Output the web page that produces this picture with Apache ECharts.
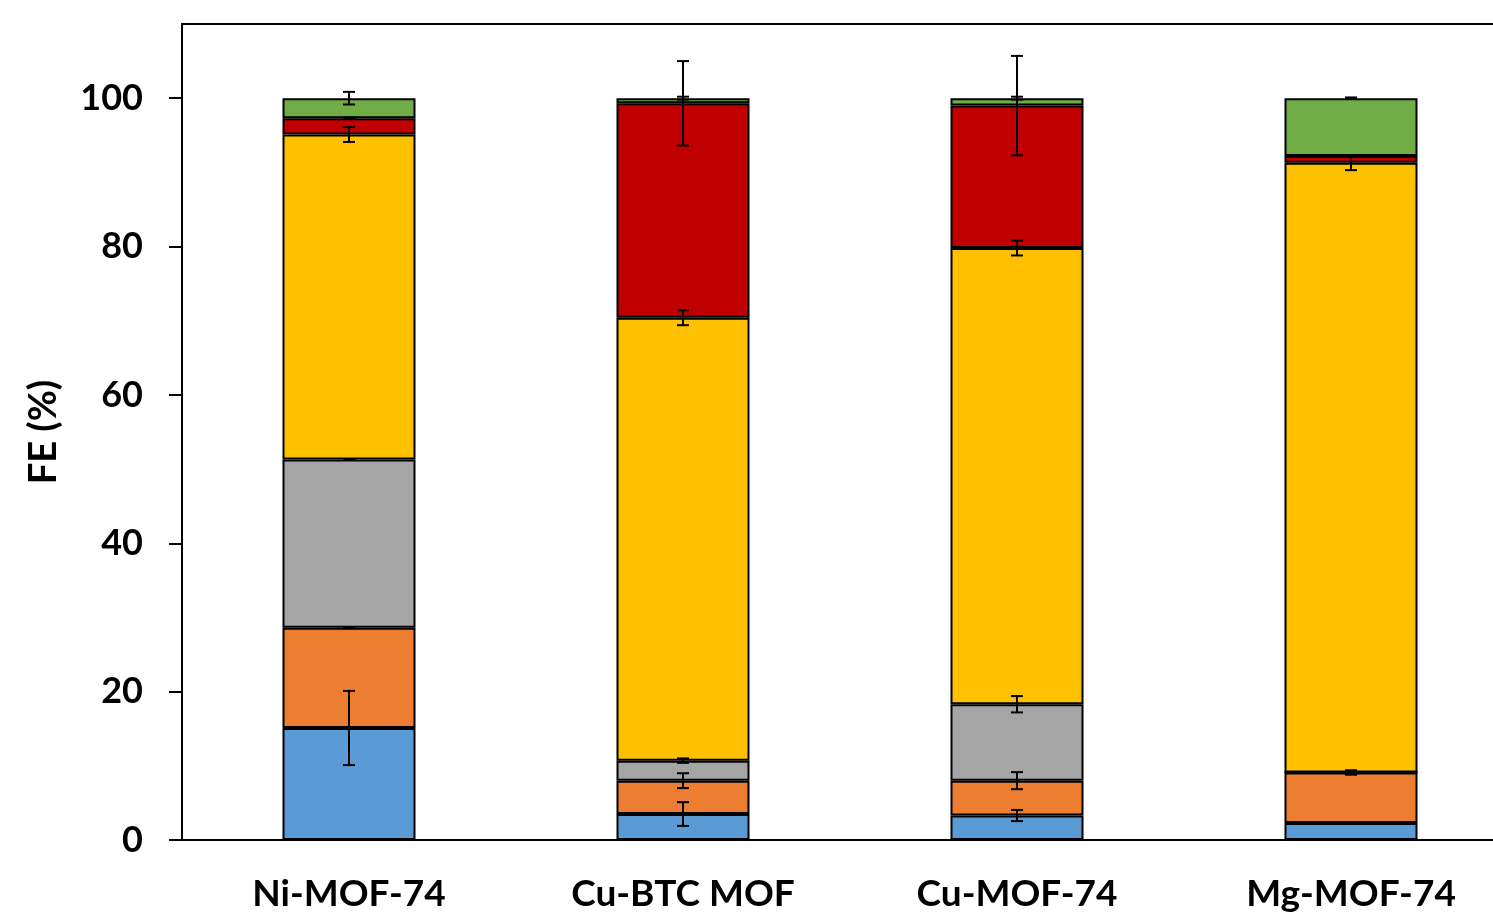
<!DOCTYPE html>
<html>
<head>
<meta charset="utf-8">
<script src="https://cdn.jsdelivr.net/npm/echarts@6/dist/echarts.min.js"></script>
<style>
  html, body { margin: 0; padding: 0; background: #fff; }
  #chart { width: 1493px; height: 923px; }
</style>
</head>
<body>
<div id="chart"></div>
<script>
// Catalysts on the x axis
const categories = ['Ni-MOF-74', 'Cu-BTC MOF', 'Cu-MOF-74', 'Mg-MOF-74'];

// Faradaic efficiency contribution of each product (%), stacked bottom to top
const blueFE   = [15.1, 3.5, 3.3, 2.3];
const orangeFE = [13.5, 4.5, 4.7, 6.8];
const grayFE   = [22.7, 2.7, 10.3, 0];
const yellowFE = [43.8, 59.7, 61.5, 82.2];
const redFE    = [2.2, 28.9, 19.2, 0.9];
const greenFE  = [2.7, 0.7, 1.0, 7.8];

// Error (±) at the top of each segment
const blueErr   = [5.0, 1.6, 0.75, 0.1];
const orangeErr = [0.05, 1.0, 1.15, 0.3];
const grayErr   = [0.05, 0.3, 1.1, 0];
const yellowErr = [1.0, 1.0, 1.0, 1.0];
const redErr    = [0.1, 5.7, 6.7, 0.1];
const greenErr  = [0.85, 0.2, 0.2, 0.1];

// Y-axis tick labels
const yTicks = [0, 20, 40, 60, 80, 100];

const stackDefs = [
  { values: blueFE,   errors: blueErr,   color: '#5B9BD5' },
  { values: orangeFE, errors: orangeErr, color: '#ED7D31' },
  { values: grayFE,   errors: grayErr,   color: '#A5A5A5' },
  { values: yellowFE, errors: yellowErr, color: '#FFC000' },
  { values: redFE,    errors: redErr,    color: '#C00000' },
  { values: greenFE,  errors: greenErr,  color: '#70AD47' }
];

const FONT = 'Lato';

const barSeries = stackDefs.map(function (d) {
  return {
    type: 'bar',
    stack: 'fe',
    data: d.values,
    barWidth: 133,
    itemStyle: { color: d.color, borderColor: '#000', borderWidth: 2 },
    emphasis: { disabled: true },
    z: 2
  };
});

// Error bars sit at the cumulative top of each segment
const errData = [];
const running = categories.map(function () { return 0; });
stackDefs.forEach(function (d) {
  d.values.forEach(function (v, i) {
    running[i] += v;
    if (d.errors[i] > 0) errData.push([i, running[i], d.errors[i]]);
  });
});

const errorSeries = {
  type: 'custom',
  data: errData,
  z: 10,
  silent: true,
  renderItem: function (params, api) {
    const x = api.value(0);
    const y = api.value(1);
    const e = api.value(2);
    const hi = api.coord([x, y + e]);
    const lo = api.coord([x, y - e]);
    const cap = 6;
    const style = { stroke: '#000', lineWidth: 2 };
    return {
      type: 'group',
      children: [
        { type: 'line', shape: { x1: hi[0], y1: hi[1], x2: lo[0], y2: lo[1] }, style: style },
        { type: 'line', shape: { x1: hi[0] - cap, y1: hi[1], x2: hi[0] + cap, y2: hi[1] }, style: style },
        { type: 'line', shape: { x1: lo[0] - cap, y1: lo[1], x2: lo[0] + cap, y2: lo[1] }, style: style }
      ]
    };
  }
};

const chart = echarts.init(document.getElementById('chart'), null, { renderer: 'canvas' });
chart.setOption({
  animation: false,
  backgroundColor: '#fff',
  grid: {
    left: 182, top: 24, right: -25, bottom: 83,
    containLabel: false,
    outerBoundsMode: 'none',
    show: true, borderColor: '#000', borderWidth: 2, backgroundColor: 'transparent'
  },
  xAxis: {
    type: 'category',
    data: categories,
    axisLine: { lineStyle: { color: '#000', width: 2 } },
    axisTick: { show: false },
    axisLabel: {
      color: '#000', fontFamily: FONT, fontWeight: 'bold', fontSize: 37, margin: 36
    }
  },
  yAxis: {
    type: 'value',
    min: 0, max: 110, interval: 20,
    name: 'FE (%)',
    nameLocation: 'middle',
    nameGap: 119,
    nameTextStyle: { color: '#000', fontFamily: FONT, fontWeight: 'bold', fontSize: 38 },
    axisLine: { show: true, lineStyle: { color: '#000', width: 2 } },
    axisTick: { show: true, inside: false, length: 13, lineStyle: { color: '#000', width: 2 }, customValues: yTicks },
    axisLabel: {
      color: '#000', fontFamily: FONT, fontWeight: 'bold', fontSize: 36, margin: 39,
      customValues: yTicks
    },
    splitLine: { show: false }
  },
  series: barSeries.concat([errorSeries])
});
</script>
</body>
</html>
